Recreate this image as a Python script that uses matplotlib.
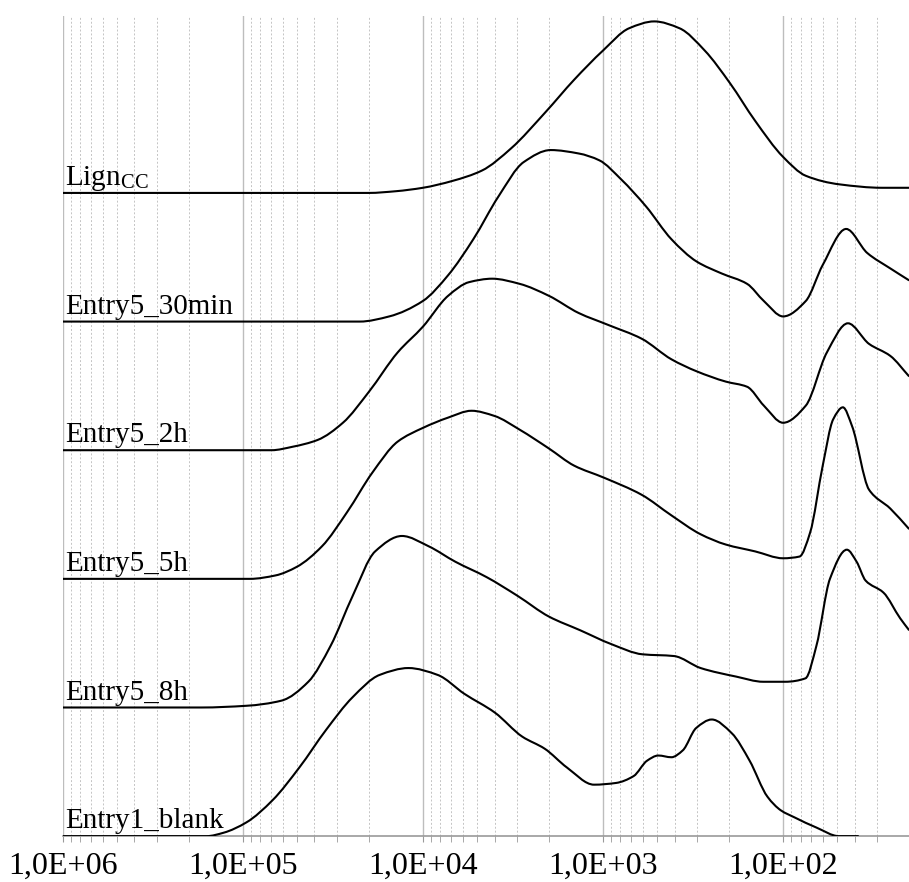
import numpy as np
import matplotlib.pyplot as plt
from matplotlib.path import Path
from matplotlib.patches import PathPatch
from matplotlib.ticker import LogLocator, FixedLocator, NullFormatter

# log10 of molar mass and normalised signal (peak = 1) for each trace
lign_logm = [6.0, 4.30, 4.15, 4.0, 3.836, 3.673, 3.51, 3.32, 3.16, 3.0, 2.855, 2.715,
             2.575, 2.435, 2.295, 2.155, 2.0, 1.874, 1.687, 1.45, 1.30]
lign_w = [0, 0, 0.01, 0.03, 0.07, 0.13, 0.26, 0.47, 0.66, 0.83, 0.96, 1.0,
          0.96, 0.83, 0.64, 0.42, 0.21, 0.10, 0.05, 0.03, 0.03]

m30_logm = [6.0, 4.35, 4.187, 4.0, 3.86, 3.72, 3.58, 3.44, 3.29, 3.135, 3.02, 2.90, 2.76,
            2.62, 2.48, 2.34, 2.20, 2.107, 2.0, 1.874, 1.78, 1.65, 1.533, 1.405, 1.30]
m30_w = [0, 0, 0.03, 0.12, 0.27, 0.48, 0.73, 0.93, 1.0, 0.98, 0.94, 0.83, 0.67,
         0.48, 0.35, 0.28, 0.22, 0.12, 0.03, 0.12, 0.33, 0.54, 0.40, 0.31, 0.24]

h2_logm = [6.0, 4.84, 4.724, 4.584, 4.444, 4.30, 4.14, 4.0, 3.86, 3.743, 3.615, 3.463,
           3.30, 3.135, 2.97, 2.785, 2.62, 2.48, 2.318, 2.20, 2.107, 2.0, 1.874, 1.757,
           1.64, 1.523, 1.405, 1.30]
h2_w = [0, 0, 0.02, 0.06, 0.16, 0.34, 0.57, 0.72, 0.90, 0.98, 1.0, 0.97,
        0.90, 0.80, 0.73, 0.65, 0.53, 0.46, 0.40, 0.37, 0.26, 0.16, 0.26, 0.57,
        0.74, 0.62, 0.55, 0.43]

h5_logm = [6.0, 4.96, 4.818, 4.70, 4.56, 4.42, 4.28, 4.14, 4.0, 3.86, 3.73, 3.603, 3.463,
           3.30, 3.16, 2.995, 2.785, 2.62, 2.458, 2.318, 2.155, 2.0, 1.909, 1.85, 1.78,
           1.722, 1.668, 1.617, 1.523, 1.405, 1.30]
h5_w = [0, 0, 0.02, 0.07, 0.19, 0.39, 0.62, 0.80, 0.88, 0.94, 0.98, 0.95, 0.87,
        0.76, 0.66, 0.59, 0.49, 0.37, 0.26, 0.20, 0.16, 0.12, 0.13, 0.27, 0.66,
        0.93, 1.0, 0.89, 0.52, 0.41, 0.29]

h8_logm = [6.0, 5.23, 4.98, 4.785, 4.636, 4.512, 4.39, 4.265, 4.116, 3.968, 3.82, 3.646,
           3.473, 3.30, 3.126, 2.955, 2.78, 2.606, 2.458, 2.26, 2.11, 1.988, 1.876, 1.815,
           1.74, 1.646, 1.592, 1.542, 1.443, 1.35, 1.30]
h8_w = [0, 0, 0.01, 0.04, 0.15, 0.36, 0.65, 0.91, 1.0, 0.94, 0.85, 0.76,
        0.65, 0.53, 0.45, 0.37, 0.31, 0.30, 0.23, 0.18, 0.15, 0.15, 0.17, 0.36,
        0.75, 0.92, 0.85, 0.74, 0.67, 0.52, 0.45]

blank_logm = [6.0, 5.2, 5.106, 4.98, 4.834, 4.686, 4.537, 4.39, 4.24, 4.08, 3.918, 3.77,
              3.6, 3.448, 3.324, 3.2, 3.05, 2.928, 2.83, 2.755, 2.693, 2.62, 2.557, 2.483,
              2.396, 2.285, 2.186, 2.087, 2.012, 1.938, 1.815, 1.69, 1.58]
blank_w = [0, 0, 0.02, 0.08, 0.21, 0.40, 0.62, 0.81, 0.94, 0.98, 0.94, 0.83,
           0.72, 0.58, 0.51, 0.40, 0.30, 0.31, 0.35, 0.44, 0.47, 0.46, 0.50, 0.63,
           0.68, 0.60, 0.44, 0.23, 0.15, 0.11, 0.05, 0, 0]

# bottom to top
names = ['Entry1_blank', 'Entry5_8h', 'Entry5_5h', 'Entry5_2h', 'Entry5_30min', 'Lign$_{\\mathregular{CC}}$']
traces = [(blank_logm, blank_w), (h8_logm, h8_w), (h5_logm, h5_w),
          (h2_logm, h2_w), (m30_logm, m30_w), (lign_logm, lign_w)]
step = 0.75

major_ticks = [1e6, 1e5, 1e4, 1e3, 1e2]
tick_labels = ['1,0E+06', '1,0E+05', '1,0E+04', '1,0E+03', '1,0E+02']


def smooth_path(lm, w):
    # monotone (Fritsch-Carlson) cubic through the read points, drawn as Bezier segments
    x = np.array(lm[::-1], float)
    y = np.array(w[::-1], float)
    h = np.diff(x)
    d = np.diff(y) / h
    m = np.zeros_like(x)
    m[0], m[-1] = d[0], d[-1]
    for k in range(1, len(x) - 1):
        if d[k - 1] * d[k] > 0:
            w1 = 2 * h[k] + h[k - 1]
            w2 = h[k] + 2 * h[k - 1]
            m[k] = (w1 + w2) / (w1 / d[k - 1] + w2 / d[k])
    verts = [(x[0], y[0])]
    codes = [Path.MOVETO]
    for k in range(len(x) - 1):
        verts += [(x[k] + h[k] / 3, y[k] + m[k] * h[k] / 3),
                  (x[k + 1] - h[k] / 3, y[k + 1] - m[k + 1] * h[k] / 3),
                  (x[k + 1], y[k + 1])]
        codes += [Path.CURVE4] * 3
    verts = np.array(verts)
    verts[:, 0] = 10 ** verts[:, 0]
    return verts, codes


plt.rcParams['font.family'] = ['Liberation Serif', 'DejaVu Serif']
plt.rcParams['mathtext.fontset'] = 'stix'

fig = plt.figure(figsize=(9.09, 8.82), dpi=100)
ax = fig.add_axes([0.0689, 0.052, 0.9311, 0.930])

for i, (name, (lm, w)) in enumerate(zip(names, traces)):
    verts, codes = smooth_path(lm, w)
    verts[:, 1] += i * step
    ax.add_patch(PathPatch(Path(verts, codes), facecolor='none', edgecolor='black',
                           lw=1.5, zorder=3))
    ax.text(1e6 * 0.97, i * step + 0.045, name, fontsize=21, ha='left', va='baseline', zorder=4)

ax.set_xscale('log')
ax.set_xlim(1e6, 20)
ax.set_ylim(0, (836 - 16) / 128.6 * step)

ax.xaxis.set_major_locator(FixedLocator(major_ticks))
ax.set_xticklabels(tick_labels, fontsize=23)
ax.xaxis.set_minor_locator(LogLocator(base=10, subs=np.arange(2, 10), numticks=20))
ax.xaxis.set_minor_formatter(NullFormatter())
ax.tick_params(axis='x', which='both', direction='out', length=4, color='#999999', pad=7)
ax.set_yticks([])

ax.grid(True, which='major', axis='x', color='#bdbdbd', lw=1.0, ls='-')
ax.grid(True, which='minor', axis='x', color='#c4c4c4', lw=0.7, ls=(0, (2, 2)))

for s in ['top', 'right', 'left']:
    ax.spines[s].set_visible(False)
ax.spines['bottom'].set_color('#999999')
ax.spines['bottom'].set_linewidth(1.2)

fig.savefig('out.png', dpi=100)
